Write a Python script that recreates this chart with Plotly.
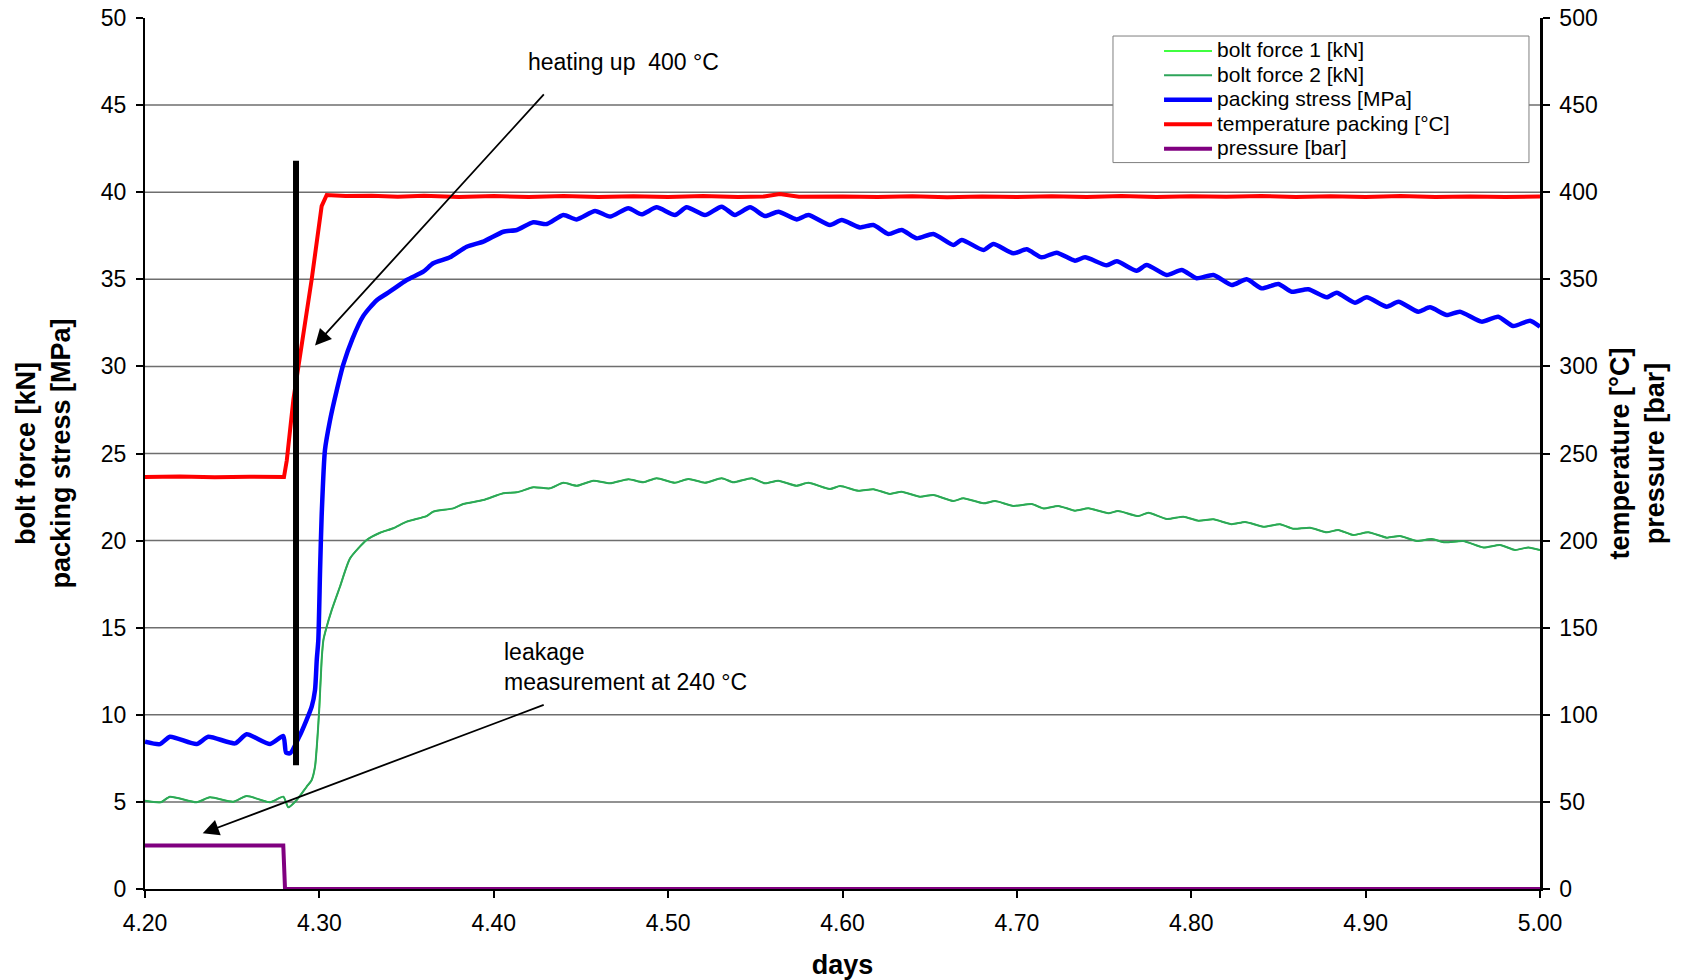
import plotly.graph_objects as go

# ---------------- data ----------------
days_stress = [4.2000, 4.2086, 4.2143, 4.2296, 4.2363, 4.2516, 4.2583, 4.2717, 4.2793, 4.2809,
               4.2832, 4.2889, 4.2956, 4.2975, 4.2985, 4.2994, 4.3004, 4.3013, 4.3032, 4.3061,
               4.3099, 4.3137, 4.3190, 4.3252, 4.3329, 4.3405, 4.3501, 4.3596, 4.3653, 4.3749,
               4.3845, 4.3940, 4.4055, 4.4132, 4.4227, 4.4304, 4.4399, 4.4476, 4.4581, 4.4667,
               4.4772, 4.4848, 4.4934, 4.5039, 4.5106, 4.5211, 4.5307, 4.5383, 4.5470, 4.5556,
               4.5632, 4.5737, 4.5804, 4.5928, 4.5995, 4.6100, 4.6177, 4.6263, 4.6339, 4.6426,
               4.6521, 4.6636, 4.6684, 4.6808, 4.6865, 4.6980, 4.7056, 4.7142, 4.7228, 4.7333,
               4.7391, 4.7515, 4.7573, 4.7687, 4.7744, 4.7859, 4.7945, 4.8031, 4.8127, 4.8232,
               4.8318, 4.8404, 4.8499, 4.8576, 4.8671, 4.8777, 4.8834, 4.8939, 4.9006, 4.9121,
               4.9188, 4.9302, 4.9369, 4.9465, 4.9541, 4.9665, 4.9760, 4.9846, 4.9943, 5.0000]
packing_stress = [8.46, 8.32, 8.74, 8.32, 8.74, 8.36, 8.88, 8.32, 8.78, 7.83,
                  7.79, 8.84, 10.47, 11.42, 13.15, 14.30, 18.30, 21.40, 25.20, 26.90,
                  28.60, 30.10, 31.60, 32.90, 33.80, 34.30, 34.96, 35.44, 35.92, 36.26,
                  36.87, 37.16, 37.73, 37.83, 38.27, 38.17, 38.69, 38.44, 38.92, 38.60,
                  39.08, 38.73, 39.13, 38.69, 39.13, 38.69, 39.17, 38.69, 39.13, 38.63,
                  38.88, 38.44, 38.69, 38.12, 38.40, 37.98, 38.12, 37.60, 37.83, 37.35,
                  37.60, 36.97, 37.26, 36.68, 37.03, 36.49, 36.72, 36.26, 36.53, 36.07,
                  36.26, 35.80, 36.03, 35.49, 35.82, 35.25, 35.53, 35.06, 35.25, 34.67,
                  35.00, 34.48, 34.73, 34.29, 34.43, 33.97, 34.23, 33.66, 33.97, 33.43,
                  33.71, 33.14, 33.39, 32.95, 33.14, 32.57, 32.85, 32.32, 32.62, 32.28]

days_bolt = [4.2000, 4.2091, 4.2143, 4.2296, 4.2372, 4.2506, 4.2583, 4.2717, 4.2793, 4.2822,
             4.2870, 4.2927, 4.2956, 4.2975, 4.2988, 4.3000, 4.3013, 4.3023, 4.3038, 4.3071,
             4.3118, 4.3176, 4.3271, 4.3348, 4.3424, 4.3501, 4.3615, 4.3653, 4.3768, 4.3825,
             4.3940, 4.4055, 4.4132, 4.4227, 4.4322, 4.4399, 4.4476, 4.4571, 4.4667, 4.4772,
             4.4858, 4.4934, 4.5039, 4.5116, 4.5211, 4.5307, 4.5374, 4.5479, 4.5556, 4.5632,
             4.5737, 4.5804, 4.5928, 4.5986, 4.6091, 4.6177, 4.6272, 4.6339, 4.6444, 4.6521,
             4.6636, 4.6693, 4.6808, 4.6875, 4.6980, 4.7085, 4.7151, 4.7238, 4.7333, 4.7410,
             4.7525, 4.7580, 4.7697, 4.7754, 4.7860, 4.7955, 4.8041, 4.8127, 4.8232, 4.8309,
             4.8413, 4.8509, 4.8585, 4.8681, 4.8777, 4.8843, 4.8929, 4.9015, 4.9121, 4.9197,
             4.9293, 4.9379, 4.9455, 4.9560, 4.9675, 4.9771, 4.9857, 4.9933, 5.0000]
bolt_force_2 = [5.07, 4.98, 5.30, 4.98, 5.26, 5.01, 5.34, 4.98, 5.30, 4.69,
                5.11, 5.87, 6.26, 7.02, 8.55, 10.47, 13.15, 14.29, 14.91, 16.02,
                17.35, 18.98, 20.03, 20.45, 20.71, 21.09, 21.41, 21.66, 21.85, 22.10,
                22.33, 22.72, 22.77, 23.06, 23.00, 23.32, 23.15, 23.44, 23.29, 23.52,
                23.35, 23.58, 23.32, 23.54, 23.32, 23.58, 23.35, 23.58, 23.29, 23.44,
                23.15, 23.32, 22.96, 23.13, 22.86, 22.95, 22.68, 22.81, 22.52, 22.62,
                22.27, 22.43, 22.14, 22.27, 21.99, 22.10, 21.85, 21.99, 21.72, 21.85,
                21.57, 21.70, 21.41, 21.60, 21.24, 21.37, 21.14, 21.22, 20.94, 21.07,
                20.80, 20.94, 20.68, 20.74, 20.48, 20.61, 20.32, 20.48, 20.17, 20.26,
                19.98, 20.09, 19.90, 19.98, 19.61, 19.75, 19.46, 19.61, 19.46]
# bolt force 1 is not distinguishable from bolt force 2 in the reference
bolt_force_1 = list(bolt_force_2)

days_temp = [4.2000, 4.2200, 4.2400, 4.2600, 4.2797, 4.2813, 4.2851, 4.2889, 4.2956, 4.3013,
             4.3042, 4.3150, 4.3300, 4.3450, 4.3600, 4.3800, 4.4000, 4.4200, 4.4400, 4.4600,
             4.4800, 4.5000, 4.5200, 4.5400, 4.5550, 4.5640, 4.5750, 4.6000, 4.6200, 4.6400,
             4.6600, 4.6800, 4.7000, 4.7200, 4.7400, 4.7600, 4.7800, 4.8000, 4.8200, 4.8400,
             4.8600, 4.8800, 4.9000, 4.9200, 4.9400, 4.9600, 4.9800, 5.0000]
temperature = [236.5, 236.8, 236.3, 236.7, 236.5, 246.0, 281.0, 306.0, 350.0, 392.0,
               398.4, 397.8, 398.0, 397.4, 397.9, 397.2, 397.8, 397.3, 397.8, 397.2,
               397.7, 397.3, 397.8, 397.2, 397.6, 399.0, 397.4, 397.6, 397.2, 397.7,
               397.1, 397.6, 397.2, 397.7, 397.3, 397.8, 397.2, 397.7, 397.4, 397.8,
               397.3, 397.7, 397.2, 397.8, 397.3, 397.6, 397.2, 397.6]

days_pressure = [4.2000, 4.2793, 4.2803, 5.0000]
pressure = [25.0, 25.0, 0.0, 0.0]

heating_marker_day = 4.2866
heating_marker_range = [7.1, 41.8]

series_names = ["bolt force 1 [kN]", "bolt force 2 [kN]", "packing stress [MPa]",
                "temperature packing [°C]", "pressure [bar]"]

assert len(days_stress) == len(packing_stress)
assert len(days_bolt) == len(bolt_force_2)
assert len(days_temp) == len(temperature)

FONT = "Liberation Sans, Arial, sans-serif"


def legend_label(name):
    return f"<span style='font-size:21px'>{name}</span>"


fig = go.Figure()
fig.add_trace(go.Scatter(x=days_bolt, y=bolt_force_1, name=legend_label(series_names[0]), mode="lines",
                         line=dict(color="#00ff00", width=1.5, shape="spline", smoothing=0.6)))
fig.add_trace(go.Scatter(x=days_bolt, y=bolt_force_2, name=legend_label(series_names[1]), mode="lines",
                         line=dict(color="#2ea55a", width=2, shape="spline", smoothing=0.6)))
fig.add_trace(go.Scatter(x=days_stress, y=packing_stress, name=legend_label(series_names[2]), mode="lines",
                         line=dict(color="#0000ff", width=4.5, shape="spline", smoothing=0.6)))
fig.add_trace(go.Scatter(x=days_temp, y=temperature, name=legend_label(series_names[3]), mode="lines",
                         yaxis="y2", line=dict(color="#ff0000", width=4)))
fig.add_trace(go.Scatter(x=days_pressure, y=pressure, name=legend_label(series_names[4]), mode="lines",
                         yaxis="y2", line=dict(color="#800080", width=4)))

# horizontal gridlines (none at the top edge)
for v in range(5, 50, 5):
    fig.add_shape(type="line", xref="paper", x0=0, x1=1, yref="y", y0=v, y1=v,
                  line=dict(color="#6e6e6e", width=1.5), layer="below")

# black vertical marker
fig.add_shape(type="line", xref="x", yref="y", x0=heating_marker_day, x1=heating_marker_day,
              y0=heating_marker_range[0], y1=heating_marker_range[1],
              line=dict(color="black", width=6), layer="above")

# legend frame (white box with grey border behind the legend entries)
fig.add_shape(type="rect", xref="paper", yref="paper", x0=0.6939, x1=0.9921, y0=0.834, y1=0.9793,
              fillcolor="white", line=dict(color="#7f7f7f", width=1), layer="above")

ann_font = dict(family=FONT, size=23, color="black")
fig.add_annotation(x=4.4745, y=47.5, xref="x", yref="y", text="heating up  400 °C",
                   showarrow=False, font=ann_font)
fig.add_annotation(x=4.2975, y=31.2, ax=4.4295, ay=45.7, xref="x", yref="y", axref="x", ayref="y",
                   text="", showarrow=True, arrowhead=2, arrowsize=1.8, arrowwidth=1.8, arrowcolor="black")
fig.add_annotation(x=4.4048, y=12.73, xref="x", yref="y", text="leakage<br>measurement at 240 °C",
                   showarrow=False, xanchor="left", yanchor="middle", align="left", font=ann_font)
fig.add_annotation(x=4.2331, y=3.2, ax=4.4295, ay=10.6, xref="x", yref="y", axref="x", ayref="y",
                   text="", showarrow=True, arrowhead=2, arrowsize=1.8, arrowwidth=1.8, arrowcolor="black")

tick_font = dict(family=FONT, size=23, color="black")
title_font = dict(family=FONT, size=27, color="black")

fig.update_layout(
    width=1686, height=980,
    margin=dict(l=145, r=146, t=18, b=91, autoexpand=False),
    paper_bgcolor="white", plot_bgcolor="white",
    font=dict(family=FONT, color="black"),
    showlegend=True,
    legend=dict(x=0.7269, y=0.982, xanchor="left", yanchor="top",
                bgcolor="rgba(255,255,255,0)", borderwidth=0,
                font=dict(family=FONT, size=16.5, color="black"),
                tracegroupgap=0, itemwidth=48),
    xaxis=dict(range=[4.2, 5.0], tick0=4.2, dtick=0.1, tickformat=".2f", automargin=False,
               showgrid=False, zeroline=False, showline=True, linecolor="black", linewidth=2,
               ticks="outside", ticklen=7, tickwidth=1.5, tickcolor="black",
               tickfont=tick_font, layer="below traces", ticklabelstandoff=5,
               title=dict(text="<b>days</b>", font=title_font, standoff=24)),
    yaxis=dict(range=[0, 50], tick0=0, dtick=5, showgrid=False, zeroline=False, automargin=False,
               showline=True, linecolor="black", linewidth=2,
               ticks="outside", ticklen=7, tickwidth=1.5, tickcolor="black",
               tickfont=tick_font, layer="below traces", ticklabelstandoff=5,
               title=dict(text="<b>bolt force [kN]<br>packing stress [MPa]</b>", font=title_font,
                          standoff=22)),
    yaxis2=dict(range=[0, 500], tick0=0, dtick=50, overlaying="y", side="right", automargin=False,
                showgrid=False, zeroline=False, showline=True, linecolor="black", linewidth=2.5,
                ticks="outside", ticklen=7, tickwidth=1.5, tickcolor="black",
                tickfont=tick_font, ticklabelstandoff=5,
                title=dict(text="<b>temperature [°C]<br>pressure [bar]</b>", font=title_font,
                           standoff=14)),
)

fig.write_html("out.html", config={"displayModeBar": False},
               post_script="document.body.style.margin='0';")
